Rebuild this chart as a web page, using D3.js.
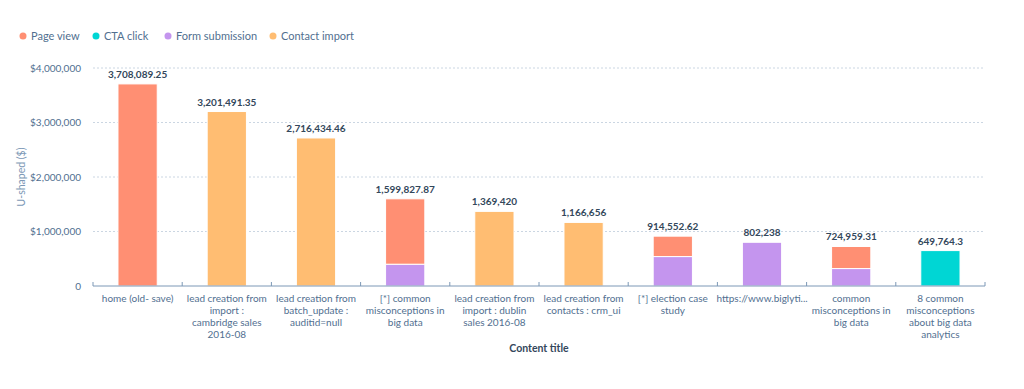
<!DOCTYPE html>
<html>
<head>
<meta charset="utf-8">
<script src="https://d3js.org/d3.v7.min.js"></script>
<style>
  body { margin: 0; background: #fff; font-family: Lato, "Open Sans", sans-serif; }
  .grid line { stroke: #cbd6e2; stroke-dasharray: 2,2; }
  .legend text, .tick text { fill: #516f90; }
</style>
</head>
<body>
<svg width="1024" height="389"></svg>
<script>
var categories = [
  "home (old- save)",
  "lead creation from\nimport :\ncambridge sales\n2016-08",
  "lead creation from\nbatch_update :\nauditid=null",
  "[*] common\nmisconceptions in\nbig data",
  "lead creation from\nimport : dublin\nsales 2016-08",
  "lead creation from\ncontacts : crm_ui",
  "[*] election case\nstudy",
  "https://www.biglyti...",
  "common\nmisconceptions in\nbig data",
  "8 common\nmisconceptions\nabout big data\nanalytics"
];
var seriesNames = ["Page view", "CTA click", "Form submission", "Contact import"];
var seriesColors = ["#ff8f73", "#00d6d4", "#c495ee", "#ffbd72"];

var pageView       = [3708089.25, 0, 0, 1199827.87, 0, 0, 374552.62, 0, 404959.31, 0];
var ctaClick       = [0, 0, 0, 0, 0, 0, 0, 0, 0, 649764.3];
var formSubmission = [0, 0, 0, 400000, 0, 0, 540000, 802238, 320000, 0];
var contactImport  = [0, 3201491.35, 2716434.46, 0, 1369420, 1166656, 0, 0, 0, 0];

var yTicks = [0, 1000000, 2000000, 3000000, 4000000];

var svg = d3.select("svg"),
    margin = {top: 68, right: 39, bottom: 103, left: 93},
    width = 1024 - margin.left - margin.right,
    height = 389 - margin.top - margin.bottom,
    g = svg.append("g").attr("transform", "translate(" + margin.left + "," + margin.top + ")");

var rows = categories.map(function(c, i) {
  return {cat: c, "Form submission": formSubmission[i], "CTA click": ctaClick[i],
          "Contact import": contactImport[i], "Page view": pageView[i]};
});
var stackOrder = ["Form submission", "CTA click", "Contact import", "Page view"];
var stacked = d3.stack().keys(stackOrder)(rows);

var x = d3.scaleBand().domain(categories).range([0, width]).paddingInner(0.56).paddingOuter(0.28),
    y = d3.scaleLinear().domain([0, 4000000]).range([height, 0]),
    color = d3.scaleOrdinal().domain(seriesNames).range(seriesColors);

// grid
g.append("g").attr("class", "grid")
  .selectAll("line").data(yTicks.slice(1)).enter().append("line")
  .attr("x1", 0).attr("x2", width)
  .attr("y1", function(d) { return y(d); }).attr("y2", function(d) { return y(d); });

// y axis labels
var fmtY = function(d) { return d === 0 ? "0" : "$" + d3.format(",")(d); };
g.append("g").attr("class", "tick")
  .selectAll("text").data(yTicks).enter().append("text")
  .attr("x", -12).attr("y", function(d) { return y(d); })
  .attr("dy", "0.35em").attr("text-anchor", "end")
  .style("font-size", "10px")
  .text(fmtY);

// bars
g.selectAll(".series").data(stacked).enter().append("g")
  .attr("fill", function(d) { return color(d.key); })
  .selectAll("rect").data(function(d) { return d; }).enter()
  .filter(function(d) { return d[1] > d[0]; })
  .append("rect")
  .attr("x", function(d) { return x(d.data.cat); })
  .attr("width", x.bandwidth())
  .attr("y", function(d) { return y(d[1]); })
  .attr("height", function(d) { return y(d[0]) - y(d[1]); })
  .attr("stroke", "#fff").attr("stroke-width", 1);

// totals
g.selectAll(".total").data(rows).enter().append("text")
  .attr("x", function(d) { return x(d.cat) + x.bandwidth() / 2; })
  .attr("y", function(d) {
    var t = stackOrder.reduce(function(s, k) { return s + d[k]; }, 0);
    return y(t) - 6;
  })
  .attr("text-anchor", "middle")
  .style("font-size", "10px").style("font-weight", "bold").attr("fill", "#33475b")
  .text(function(d) {
    var t = stackOrder.reduce(function(s, k) { return s + d[k]; }, 0);
    return d3.format(",")(Math.round(t * 100) / 100);
  });

// x axis
var xAxis = g.append("g").attr("transform", "translate(0," + height + ")");
xAxis.append("path")
  .attr("d", "M0,-4V0H" + width + "V-4")
  .attr("fill", "none").attr("stroke", "#7c98b6").attr("stroke-width", 1);
xAxis.selectAll(".xt").data(categories.slice(1)).enter().append("line")
  .attr("x1", function(d) { return x(d) - x.step() * x.paddingInner() / 2 - x.bandwidth() * 0 ; })
  .attr("x2", function(d) { return x(d) - x.step() * x.paddingInner() / 2; })
  .attr("y1", -4).attr("y2", 0)
  .attr("stroke", "#7c98b6");

xAxis.selectAll(".xl").data(categories).enter().append("text")
  .attr("class", "tick")
  .attr("text-anchor", "middle")
  .style("font-size", "10px")
  .attr("fill", "#516f90")
  .attr("transform", function(d) { return "translate(" + (x(d) + x.bandwidth() / 2) + ",16)"; })
  .each(function(d) {
    var t = d3.select(this);
    d.split("\n").forEach(function(line, i) {
      t.append("tspan").attr("x", 0).attr("y", i * 12).text(line);
    });
  });

// axis titles
svg.append("text")
  .attr("x", margin.left + width / 2).attr("y", 352)
  .attr("text-anchor", "middle")
  .style("font-size", "10.5px").style("font-weight", "bold").attr("fill", "#33475b")
  .text("Content title");

svg.append("text")
  .attr("transform", "translate(25," + (margin.top + height / 2) + ") rotate(-90)")
  .attr("text-anchor", "middle")
  .style("font-size", "10.5px").attr("fill", "#7c98b6")
  .text("U-shaped ($)");

// legend
var legendX = [23, 96, 168, 273];
var legend = svg.append("g").attr("class", "legend")
  .selectAll("g").data(seriesNames).enter().append("g")
  .attr("transform", function(d, i) { return "translate(" + legendX[i] + ",36)"; });
legend.append("circle").attr("r", 3.5).attr("fill", function(d) { return color(d); });
legend.append("text").attr("x", 8).attr("dy", "0.35em")
  .style("font-size", "11px").text(function(d) { return d; });
</script>
</body>
</html>
